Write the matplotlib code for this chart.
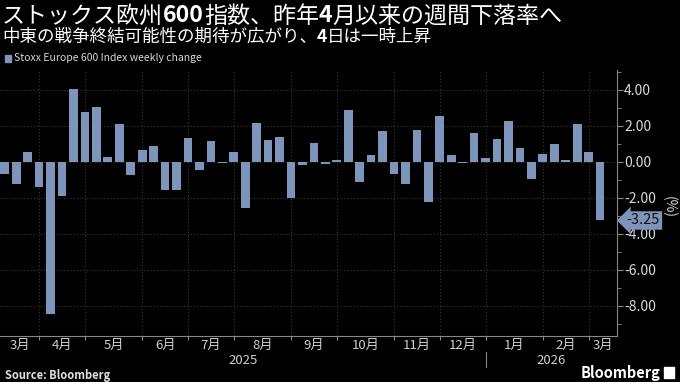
import numpy as np
import pandas as pd
import matplotlib.pyplot as plt
from matplotlib.transforms import IdentityTransform, blended_transform_factory
from matplotlib.ticker import MultipleLocator, FuncFormatter

# weekly change of Stoxx Europe 600 (%), week ending Fridays
changes = [-0.67, -1.22, 0.57, -1.39, -8.44, -1.91, 4.04, 2.80, 3.07, 0.28, 2.11,
           -0.74, 0.67, 0.91, -1.56, -1.54, 1.35, -0.43, 1.17, -0.06, 0.57, -2.56,
           2.15, 1.20, 1.41, -1.98, -0.17, 1.06, -0.11, 0.11, 2.89, -1.09,
           0.39, 1.70, -0.67, -1.22, 1.78, -2.20, 2.57, 0.41, -0.07, 1.61, 0.21,
           1.30, 2.30, 0.78, -0.96, 0.44, 1.00, 0.11, 2.11, 0.56, -3.25]
weeks = pd.date_range('2025-03-07', periods=len(changes), freq='W-FRI')
month_labels = ['3月', '4月', '5月', '6月', '7月', '8月', '9月', '10月', '11月',
                '12月', '1月', '2月', '3月']
years = ['2025', '2026']

title = [('ストックス欧州', 'normal'), ('600', 'bold'), ('指数、昨年', 'normal'),
         ('4', 'bold'), ('月以来の週間下落率へ', 'normal')]
subtitle = [('中東の戦争終結可能性の期待が広がり、', 'normal'), ('4', 'bold'),
            ('日は一時上昇', 'normal')]

BAR = '#7d95ba'
GRID = '#3c3c3c'
JP = ['Noto Sans CJK JP', 'DejaVu Sans']
NARROW = ['Liberation Sans Narrow', 'Noto Sans CJK JP', 'DejaVu Sans']

fig = plt.figure(figsize=(6.8, 3.82), dpi=100, facecolor='black')
ax = fig.add_axes([0, 1 - 336 / 382, 617 / 680, 266 / 382])
ax.set_facecolor('black')

x = np.arange(len(changes))
ax.bar(x, changes, width=0.76, color=BAR, zorder=3)

xmin, xmax = -0.42, len(changes) - 1 + 1.48
ax.set_xlim(xmin, xmax)
ax.set_ylim(-9.67, 5.11)

# Bloomberg draws the month break on the last bar of the previous month
first_of_month = [i for i in range(1, len(weeks)) if weeks[i].month != weeks[i - 1].month]
breaks = [i - 1 for i in first_of_month]
for b in breaks:
    ax.axvline(b, color=GRID, lw=0.8, ls=(0, (1, 2)), zorder=1)
for v in range(-8, 5, 2):
    ax.axhline(v, color=GRID, lw=0.8, ls=(0, (1, 2)), zorder=1)

ax.set_xticks(breaks)
ax.set_xticklabels([])
ax.tick_params(axis='x', length=3, color='#888888', direction='out')

xt = blended_transform_factory(ax.transData, ax.transAxes)
edges = [xmin] + breaks + [xmax]
for lab, a, b in zip(month_labels, edges[:-1], edges[1:]):
    ax.text((a + b) / 2, -0.012, lab, transform=xt, ha='center', va='top',
            color='#d0d0d0', fontsize=9.5, family=NARROW)

jan = next(b for b, i in zip(breaks, first_of_month) if weeks[i].month == 1)
ax.plot([jan, jan], [-0.06, -0.115], transform=xt, color='#888888', lw=0.8, clip_on=False)
ax.text((xmin + jan) / 2, -0.066, years[0], transform=xt, ha='center', va='top',
        color='#d0d0d0', fontsize=9.5, family=NARROW)
ax.text((jan + xmax) / 2, -0.066, years[1], transform=xt, ha='center', va='top',
        color='#d0d0d0', fontsize=9.5, family=NARROW)

# right value axis
ax.yaxis.tick_right()
ax.yaxis.set_major_locator(MultipleLocator(2))
ax.yaxis.set_minor_locator(MultipleLocator(1))
ax.yaxis.set_major_formatter(FuncFormatter(lambda v, p: f'{v:.2f}'))
ax.tick_params(axis='y', which='major', length=4, color='#888888', labelcolor='#d9d9d9',
               labelsize=10, pad=1)
ax.tick_params(axis='y', which='minor', length=3, color='#888888')
for lab in ax.get_yticklabels():
    lab.set_family(NARROW)
for s in ['top', 'left']:
    ax.spines[s].set_visible(False)
ax.spines['right'].set_color('#888888')
ax.spines['bottom'].set_color('#888888')
fig.text(669 / 680, 1 - 207 / 382, '(%)', rotation=-90, ha='center', va='center',
         color='#d9d9d9', fontsize=10, family=NARROW)

# last value tag
last = changes[-1]
yt = blended_transform_factory(ax.transAxes, ax.transData)
ax.annotate(f'{last:.2f}', xy=(1.0, last), xycoords=yt,
            xytext=(7, 0), textcoords='offset points', ha='left', va='center',
            fontsize=10.5, color='#111111', family=NARROW, annotation_clip=False,
            bbox=dict(boxstyle='larrow,pad=0.15', fc=BAR, ec='none'))


def rich_text(x0, y0, parts, size, color):
    r = fig.canvas.get_renderer()
    for s, w in parts:
        t = fig.text(x0, y0, s, transform=IdentityTransform(), fontsize=size,
                     fontweight=w, color=color, family=JP, va='center', ha='left')
        x0 = t.get_window_extent(r).x1


rich_text(2, 382 - 16, title, 16.6, 'white')
rich_text(2, 382 - 37, subtitle, 12.6, 'white')

fig.patches.append(plt.Rectangle((5 / 680, 1 - 62 / 382), 6 / 680, 7 / 382,
                                 transform=fig.transFigure, color=BAR))
fig.text(14 / 680, 1 - 58 / 382, 'Stoxx Europe 600 Index weekly change', color='#d9d9d9',
         fontsize=7.5, va='center', family=NARROW)
fig.text(5 / 680, 1 - 375 / 382, 'Source: Bloomberg', color='#e0e0e0', fontsize=8,
         fontweight='bold', va='center', family=NARROW)
fig.text(660 / 680, 1 - 373 / 382, 'Bloomberg', color='white', fontsize=10.5,
         fontweight='bold', va='center', ha='right', family=NARROW)
fig.patches.append(plt.Rectangle((664 / 680, 1 - 378 / 382), 10 / 680, 11 / 382,
                                 transform=fig.transFigure, color='white'))

fig.savefig('out.png', dpi=100, facecolor='black')
